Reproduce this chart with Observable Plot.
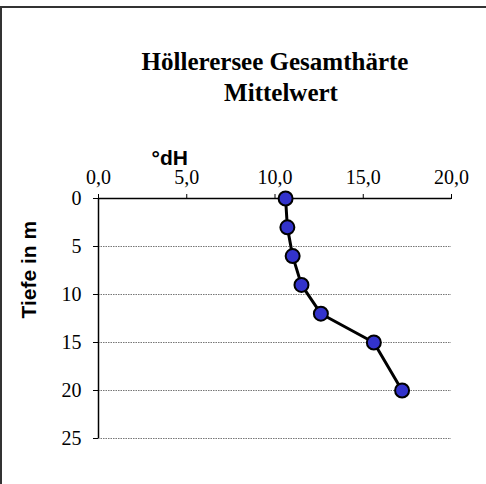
<!DOCTYPE html>
<html>
<head>
<meta charset="utf-8">
<script src="https://cdn.jsdelivr.net/npm/d3@7"></script>
<script src="https://cdn.jsdelivr.net/npm/@observablehq/plot@0.6"></script>
<style>
  body { margin: 0; background: #fff; }
  #wrap { position: relative; width: 486px; height: 484px; overflow: hidden; }
  #frame { position: absolute; left: 0; top: 6px; width: 600px; height: 600px;
           border-top: 2px solid #333; border-left: 2px solid #333; pointer-events: none; }
</style>
</head>
<body>
<div id="wrap"><div id="frame"></div></div>
<script>
const depths = [0, 3, 6, 9, 12, 15, 20];
const hardness = [10.6, 10.7, 11.0, 11.5, 12.6, 15.6, 17.2];
const xTicks = [0, 5, 10, 15, 20];
const yTicks = [0, 5, 10, 15, 20, 25];
const gridDepths = [5, 10, 15, 20, 25];
const titleLines = ["Höllerersee Gesamthärte", "Mittelwert"];
const xLabel = "°dH";
const yLabel = "Tiefe in m";

const data = depths.map((d, i) => ({depth: d, value: hardness[i]}));
const comma = d => d.toFixed(1).replace(".", ",");

const chart = Plot.plot({
  width: 486,
  height: 484,
  marginLeft: 98,
  marginRight: 35,
  marginTop: 198,
  marginBottom: 46,
  style: {fontFamily: "Liberation Serif, Times New Roman, serif", fontSize: "20px", background: "transparent", color: "#000"},
  x: {domain: [0, 20], ticks: xTicks, tickFormat: comma, axis: "top", tickSize: 5, tickPadding: 10, label: null},
  y: {domain: [0, 25], reverse: true, ticks: yTicks, tickSize: 5, tickPadding: 12, label: null},
  marks: [
    Plot.ruleY(gridDepths, {stroke: "#777", strokeWidth: 1, strokeDasharray: "1.5,1"}),
    Plot.ruleY([0], {stroke: "#000", strokeWidth: 1.5}),
    Plot.ruleX([0], {stroke: "#000", strokeWidth: 1.5}),
    Plot.line(data, {x: "value", y: "depth", stroke: "#000", strokeWidth: 3}),
    Plot.dot(data, {x: "value", y: "depth", r: 7, fill: "#3333cc", stroke: "#000", strokeWidth: 2}),
    Plot.text([titleLines[0]], {frameAnchor: "top", dy: -146, text: d => d, fontSize: 25, fontWeight: "bold"}),
    Plot.text([titleLines[1]], {frameAnchor: "top", dx: 6, dy: -115, text: d => d, fontSize: 25, fontWeight: "bold"}),
    Plot.text([xLabel], {frameAnchor: "top-left", dx: 53, dy: -48, text: d => d, fontSize: 21, fontWeight: "bold", fontFamily: "Liberation Sans, Arial, sans-serif"}),
    Plot.text([yLabel], {frameAnchor: "left", dx: -69, rotate: -90, text: d => d, fontSize: 21, fontWeight: "bold", fontFamily: "Liberation Sans, Arial, sans-serif"})
  ]
});
chart.style.position = "absolute";
chart.style.left = "0";
chart.style.top = "0";
document.getElementById("wrap").appendChild(chart);
</script>
</body>
</html>
